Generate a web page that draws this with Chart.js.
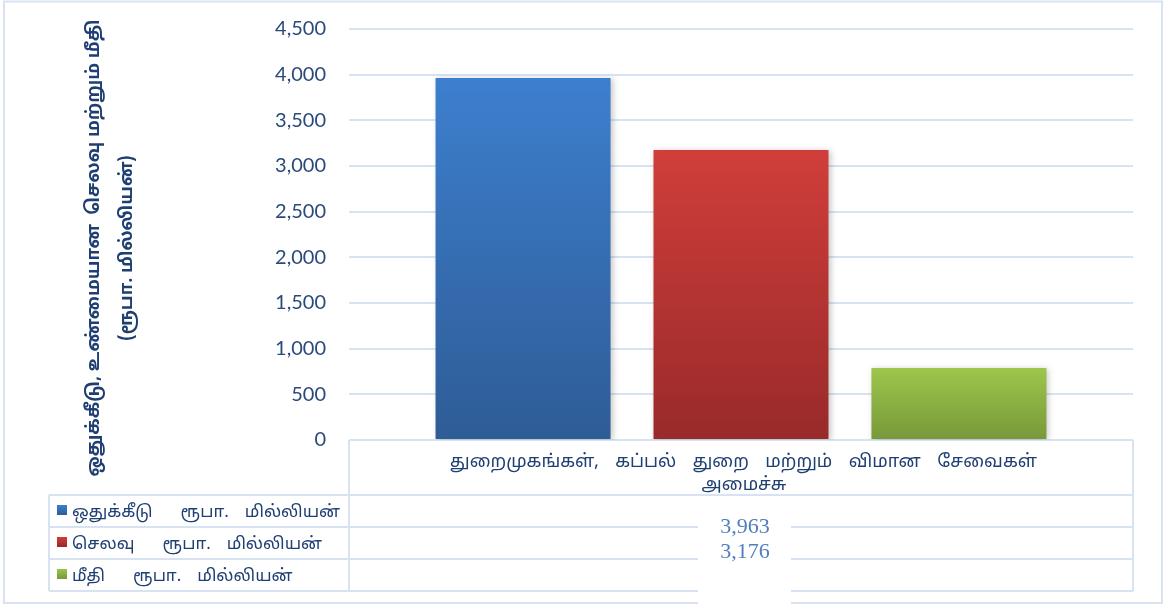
<!DOCTYPE html>
<html>
<head>
<meta charset="utf-8">
<script src="https://cdn.jsdelivr.net/npm/chart.js@4"></script>
<style>
  body { margin: 0; background: #fff; }
  #chart { display: block; }
</style>
</head>
<body>
<canvas id="chart" width="1165" height="605"></canvas>
<script>
const categories = ["துறைமுகங்கள்,  கப்பல்  துறை  மற்றும்  விமான  சேவைகள்  அமைச்சு"]
const category_lines = [["துறைமுகங்கள்,", "கப்பல்", "துறை", "மற்றும்", "விமான", "சேவைகள்"], ["அமைச்சு"]]
const series_names = ["ஒதுக்கீடு", "செலவு", "மீதி"]
const unit_label = ["ரூபா.", "மில்லியன்"]
const allocation = [3963]
const expenditure = [3176]
const balance = [787]
const shown_values = ["3,963", "3,176"]
const y_ticks_max = 4500
const y_step = 500
const y_title = ["ஒதுக்கீடு, உண்மையான  செலவு மற்றும் மீதி", "(ரூபா. மில்லியன்)"]

const text_blue = "#1f3f73"
const grid_blue = "#d7e3f3"
const tamil = "'Noto Sans Tamil', 'Latha', 'Lohit Tamil', 'Noto Sans', sans-serif"

// vertical gradient running from the top of each bar down to the baseline
const bar_fill = (top_col, bottom_col) => (context) => {
    const chart = context.chart
    if (!chart.chartArea || context.raw === undefined) return top_col
    const y = chart.scales.y
    const g = chart.ctx.createLinearGradient(0, y.getPixelForValue(context.raw), 0, y.getPixelForValue(0))
    g.addColorStop(0, top_col)
    g.addColorStop(1, bottom_col)
    return g
}

const key_colors = [["#3d7fce", "#2e5c96"], ["#d03e3a", "#982a2a"], ["#9dc64b", "#77983a"]]

const data = {
    labels: categories,
    datasets: [{
        label: series_names[0],
        data: allocation,
        backgroundColor: bar_fill(key_colors[0][0], key_colors[0][1])
    }, {
        label: series_names[1],
        data: expenditure,
        backgroundColor: bar_fill(key_colors[1][0], key_colors[1][1])
    }, {
        label: series_names[2],
        data: balance,
        backgroundColor: bar_fill(key_colors[2][0], key_colors[2][1])
    }]
}

// soft shadow under the bars
const bar_shadow = {
    id: "bar_shadow",
    beforeDatasetsDraw(chart) {
        const ctx = chart.ctx
        ctx.save()
        ctx.shadowColor = "rgba(0, 0, 0, 0.22)"
        ctx.shadowBlur = 6
        ctx.shadowOffsetX = 2
        ctx.shadowOffsetY = 1
    },
    afterDatasetsDraw(chart) {
        chart.ctx.restore()
    }
}

// data table under the plot, legend keys, axis title and outer frame
const table_plugin = {
    id: "table_plugin",
    afterDraw(chart) {
        const ctx = chart.ctx
        const area = chart.chartArea
        const left = area.left, right = area.right, base = area.bottom
        const rows = [495, 527, 559, 591]
        const legend_left = 49

        ctx.save()
        ctx.strokeStyle = grid_blue
        ctx.lineWidth = 2

        // outer frame
        ctx.strokeRect(4, 1.5, 1158, 601.5)

        // table lines
        ctx.beginPath()
        ctx.moveTo(left, base); ctx.lineTo(left, rows[3])
        ctx.moveTo(right, base); ctx.lineTo(right, rows[3])
        ctx.moveTo(legend_left, rows[0]); ctx.lineTo(legend_left, rows[3])
        rows.forEach((r) => { ctx.moveTo(legend_left, r); ctx.lineTo(right, r) })
        ctx.stroke()

        // category label, words spread across the first line
        ctx.fillStyle = text_blue
        ctx.font = "18px " + tamil
        ctx.textBaseline = "middle"
        ctx.textAlign = "left"
        const words = category_lines[0]
        const span_left = 450, span_right = 1037
        const widths = words.map((w) => ctx.measureText(w).width)
        const total = widths.reduce((a, b) => a + b, 0)
        const gap = (span_right - span_left - total) / (words.length - 1)
        let x = span_left
        words.forEach((w, i) => { ctx.fillText(w, x, 463); x += widths[i] + gap })
        ctx.textAlign = "center"
        ctx.fillText(category_lines[1][0], (left + right) / 2 + 3, 486)

        // legend keys and series names
        chart.data.datasets.forEach((ds, i) => {
            const mid = (rows[i] + rows[i + 1]) / 2
            const g = ctx.createLinearGradient(0, mid - 6, 0, mid + 4)
            g.addColorStop(0, key_colors[i][0])
            g.addColorStop(1, key_colors[i][1])
            ctx.fillStyle = g
            ctx.fillRect(57, mid - 6, 10, 10)
            ctx.fillStyle = text_blue
            ctx.font = "17px " + tamil
            ctx.textAlign = "left"
            let tx = 72
            ctx.fillText(ds.label, tx, mid + 3)
            tx += ctx.measureText(ds.label).width + 28
            ctx.fillText(unit_label[0], tx, mid + 3)
            tx += ctx.measureText(unit_label[0]).width + 16
            ctx.fillText(unit_label[1], tx, mid + 3)
        })

        // value box
        ctx.fillStyle = "#fff"
        ctx.fillRect(698, 498, 93, 107)
        ctx.fillStyle = "#4f7fbf"
        ctx.font = "22px 'Liberation Serif', 'Times New Roman', serif"
        ctx.textAlign = "center"
        shown_values.forEach((v, i) => ctx.fillText(v, 745, 527 + i * 25))

        // rotated y-axis title
        ctx.fillStyle = text_blue
        ctx.font = "bold 18px " + tamil
        ctx.translate(0, 248)
        ctx.rotate(-Math.PI / 2)
        ctx.fillText(y_title[0], 0, 95)
        ctx.fillText(y_title[1], 0, 128)
        ctx.restore()
    }
}

const config = {
    type: "bar",
    data: data,
    options: {
        responsive: false,
        animation: false,
        layout: { padding: { top: 29, right: 32, bottom: 165, left: 0 } },
        datasets: { bar: { categoryPercentage: 0.834, barPercentage: 0.803 } },
        plugins: { legend: { display: false }, tooltip: { enabled: false } },
        scales: {
            x: { display: false },
            y: {
                min: 0,
                max: y_ticks_max,
                afterFit: (scale) => {
                    scale.width = 349
                    scale.paddingTop = 0
                    scale.paddingBottom = 0
                },
                border: { display: false },
                grid: { color: grid_blue, lineWidth: 2, drawTicks: false },
                ticks: {
                    stepSize: y_step,
                    padding: 23,
                    color: "#2a4a7b",
                    font: { family: "Lato, 'Open Sans', sans-serif", size: 20 }
                }
            }
        }
    },
    plugins: [bar_shadow, table_plugin]
}

var ctx_chart = document.getElementById("chart")
var budget_chart = new Chart(ctx_chart, config)
</script>
</body>
</html>
